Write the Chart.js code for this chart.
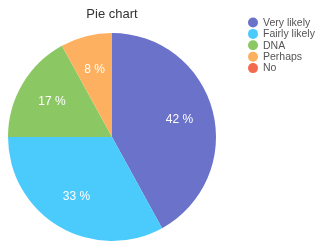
<!DOCTYPE html>
<html>
<head>
<meta charset="utf-8">
<script src="https://cdn.jsdelivr.net/npm/chart.js@4"></script>
<style>
  html, body { margin: 0; padding: 0; background: #fff; }
  #wrap { width: 315px; height: 241px; position: relative; }
</style>
</head>
<body>
<div id="wrap"><canvas id="pieChart"></canvas></div>
<script>
// данi діаграми
const labels = ['Very likely', 'Fairly likely', 'DNA', 'Perhaps', 'No'];
const values = [42, 33, 17, 8, 0];
const colors = ['#6b72c9', '#4bcbfc', '#8bc863', '#fdb05f', '#f46a4e'];

const FONT = '"Liberation Sans", Arial, sans-serif';

// підписи з відсотками всередині секторів
const sliceLabels = {
    id: 'sliceLabels',
    afterDatasetsDraw(chart) {
        const ctx = chart.ctx;
        const meta = chart.getDatasetMeta(0);
        ctx.save();
        ctx.fillStyle = '#fff';
        ctx.font = '12px ' + FONT;
        ctx.textAlign = 'center';
        ctx.textBaseline = 'middle';
        meta.data.forEach((arc, i) => {
            if (!values[i]) return;
            const p = arc.getProps(['x', 'y', 'startAngle', 'endAngle', 'outerRadius'], true);
            const mid = (p.startAngle + p.endAngle) / 2;
            const r = p.outerRadius * 0.67;
            ctx.fillText(values[i] + ' %', p.x + Math.cos(mid) * r, p.y + Math.sin(mid) * r);
        });
        ctx.restore();
    }
};

// легенда праворуч
const sideLegend = {
    id: 'sideLegend',
    afterDraw(chart) {
        const ctx = chart.ctx;
        ctx.save();
        ctx.font = '10.5px ' + FONT;
        ctx.textBaseline = 'middle';
        ctx.textAlign = 'left';
        labels.forEach((name, i) => {
            const y = 22.5 + i * 11.4;
            ctx.fillStyle = colors[i];
            ctx.beginPath();
            ctx.arc(253, y, 5, 0, Math.PI * 2);
            ctx.fill();
            ctx.fillStyle = '#555';
            ctx.fillText(name, 263, y + 0.5);
        });
        ctx.restore();
    }
};

new Chart(document.getElementById('pieChart'), {
    type: 'pie',
    data: {
        labels: labels,
        datasets: [{
            data: values,
            backgroundColor: colors,
            borderWidth: 0
        }]
    },
    options: {
        responsive: true,
        maintainAspectRatio: false,
        animation: false,
        layout: { padding: { right: 91 } },
        plugins: {
            legend: { display: false },
            tooltip: { enabled: false },
            title: {
                display: true,
                text: 'Pie chart',
                color: '#333',
                font: { family: FONT, size: 13, weight: 'normal' },
                padding: { top: 7, bottom: 10.4 }
            }
        }
    },
    plugins: [sliceLabels, sideLegend]
});
</script>
</body>
</html>
